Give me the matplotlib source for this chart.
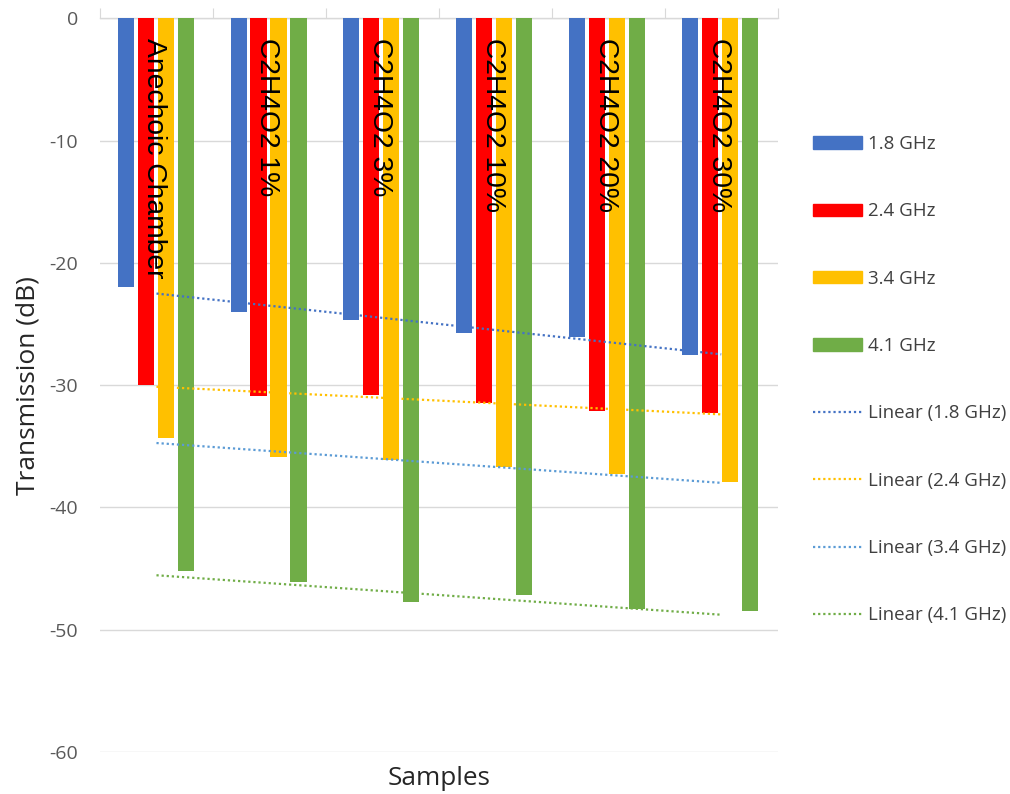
import numpy as np
import matplotlib
matplotlib.use("Agg")
import matplotlib.pyplot as plt
from matplotlib.patches import Patch
from matplotlib.lines import Line2D

plt.rcParams.update({
    "font.family": ["Open Sans", "DejaVu Sans"],
    "axes.unicode_minus": False,
    "figure.dpi": 100,
})

samples = ["Anechoic Chamber", "C2H4O2 1%", "C2H4O2 3%",
           "C2H4O2 10%", "C2H4O2 20%", "C2H4O2 30%"]
freqs = ["1.8 GHz", "2.4 GHz", "3.4 GHz", "4.1 GHz"]

t_18 = [-22.0, -24.0, -24.7, -25.7, -26.1, -27.5]
t_24 = [-30.0, -30.9, -30.8, -31.5, -32.1, -32.3]
t_34 = [-34.3, -35.9, -36.1, -36.7, -37.3, -37.9]
t_41 = [-45.2, -46.1, -47.7, -47.2, -48.3, -48.5]

bar_colors = ["#4472C4", "#FF0000", "#FFC000", "#70AD47"]
trend_colors = ["#4472C4", "#FFC000", "#5B9BD5", "#70AD47"]

series = [t_18, t_24, t_34, t_41]
x = np.arange(1, len(samples) + 1)

fig = plt.figure(figsize=(10.10, 7.94))
ax = fig.add_axes([0.099, 0.053, 0.671, 0.924])

step = 0.177
width = 0.142
for i, vals in enumerate(series):
    ax.bar(x + (i - 1.5) * step - 0.008, vals, width=width,
           color=bar_colors[i], zorder=3)

# least-squares trend for each frequency
for i, vals in enumerate(series):
    k, b = np.polyfit(x, vals, 1)
    ax.plot(x[[0, -1]], k * x[[0, -1]] + b, color=trend_colors[i],
            linestyle=(0, (1, 1.3)), linewidth=1.6, zorder=4)

for xi, name in zip(x, samples):
    ax.text(xi - 0.02, -1.6, name, rotation=270, ha="center", va="top",
            fontsize=20.3, family=["Liberation Sans"], color="black", zorder=5)

ax.set_xlim(0.5, 6.5)
ax.set_ylim(-60, 0)
ax.set_yticks(np.arange(-60, 1, 10))
ax.grid(axis="y", color="#D9D9D9", linewidth=1, zorder=0)

for side in ["left", "right", "bottom"]:
    ax.spines[side].set_visible(False)
ax.spines["top"].set_color("#D9D9D9")
ax.spines["top"].set_linewidth(1)

ax.xaxis.tick_top()
ax.set_xticks(np.arange(0.5, 6.6, 1))
ax.tick_params(axis="x", length=7, color="#D9D9D9", labeltop=False, direction="out")
ax.tick_params(axis="y", length=0, pad=16, labelsize=14, labelcolor="#595959")

ax.set_ylabel("Transmission (dB)", fontsize=19, labelpad=6, color="#262626")
ax.xaxis.set_label_position("bottom")
ax.set_xlabel("Samples", fontsize=18.8, labelpad=10, color="#262626")

handles = [Patch(color=c, label=f) for c, f in zip(bar_colors, freqs)]
handles += [Line2D([], [], color=c, linestyle=(0, (1, 1.3)), linewidth=1.6,
                   label=f"Linear ({f})") for c, f in zip(trend_colors, freqs)]
fig.legend(handles=handles, loc="upper left", bbox_to_anchor=(0.788, 0.851),
           frameon=False, fontsize=13.5, labelspacing=2.63,
           handlelength=2.6, handleheight=0.64, handletextpad=0.35,
           labelcolor="#404040")

fig.savefig("out.png", dpi=100)
